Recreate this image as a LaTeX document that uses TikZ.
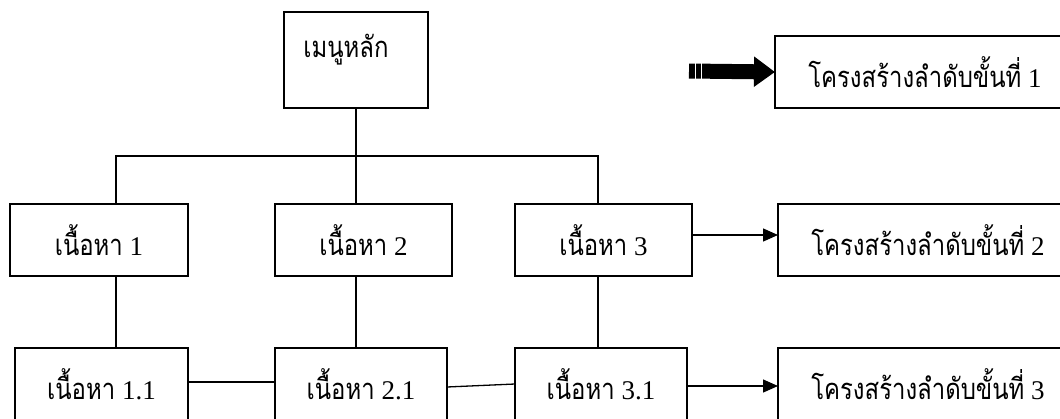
\documentclass[tikz,border=0pt]{standalone}
\usepackage{fontspec}
\setmainfont{Liberation Serif}
\newfontfamily\thaifont[Script=Thai, Scale=1.08, FakeStretch=0.82]{Loma}
\usetikzlibrary{arrows.meta}

\tikzset{
  box/.style={draw, line width=1.3pt, minimum height=72pt, inner sep=0pt, outer sep=0pt,
    font=\fontsize{27}{30}\selectfont},
  link/.style={line width=1.3pt},
  linkarrow/.style={line width=1.3pt, -{Triangle[length=15pt,width=13pt]}}
}

\begin{document}
\begin{tikzpicture}[x=1pt, y=-1pt]

\useasboundingbox (0, 0) rectangle (1060, 418);
\clip (0, 0) rectangle (1060, 418);

\node[box, minimum width=144pt, minimum height=96pt] (main) at (356, 60) {};
\node[font=\fontsize{27}{30}\selectfont] (maintxt) at (346, 50) {\thaifont เมนูหลัก};

\node[box, minimum width=178pt] (n1) at (99, 240) {{\thaifont เนื้อหา} 1};
\node[box, minimum width=177pt] (n2) at (363.5, 240) {{\thaifont เนื้อหา} 2};
\node[box, minimum width=177pt] (n3) at (603.5, 240) {{\thaifont เนื้อหา} 3};

\node[box, minimum width=173pt] (n11) at (101.5, 384) {{\thaifont เนื้อหา} 1.1};
\node[box, minimum width=172pt] (n21) at (361, 384) {{\thaifont เนื้อหา} 2.1};
\node[box, minimum width=172pt] (n31) at (601, 384) {{\thaifont เนื้อหา} 3.1};

\node[box, minimum width=300pt] (s1) at (925, 72) {{\thaifont โครงสร้างลำดับขั้นที่} 1};
\node[box, minimum width=300pt] (s2) at (928, 240) {{\thaifont โครงสร้างลำดับขั้นที่} 2};
\node[box, minimum width=300pt] (s3) at (928, 384) {{\thaifont โครงสร้างลำดับขั้นที่} 3};

\coordinate (bus) at (356, 156);
\coordinate (c1) at (116, 156);
\coordinate (c3) at (598, 156);

\draw[link] (main.south) -- (bus);
\draw[link] (c1 |- n1.north) -- (c1) -- (c3) -- (c3 |- n3.north);
\draw[link] (bus) -- (bus |- n2.north);

\draw[link] (c1 |- n1.south) -- (c1 |- n11.north);
\draw[link] (bus |- n2.south) -- (bus |- n21.north);
\draw[link] (c3 |- n3.south) -- (c3 |- n31.north);

\draw[link] ([yshift=2pt]n11.east) -- ([yshift=2pt]n21.west);
\draw[link] ([yshift=-3pt]n21.east) -- (n31.west);

\draw[linkarrow] ([yshift=5pt]n3.east) -- ([yshift=5pt]s2.west);
\draw[linkarrow] ([yshift=-2pt]n31.east) -- ([yshift=-2pt]s3.west);

\coordinate (tail) at (689, 71);
\draw[line width=15pt, -{Triangle[length=21pt,width=29pt]}] (tail) -- (s1.west);
\draw[white, line width=0.8pt] ([xshift=6pt]tail) ++(0, -8) -- ++(0, 16);
\draw[white, line width=0.8pt] ([xshift=12pt]tail) ++(0, -8) -- ++(0, 16);

\end{tikzpicture}
\end{document}
